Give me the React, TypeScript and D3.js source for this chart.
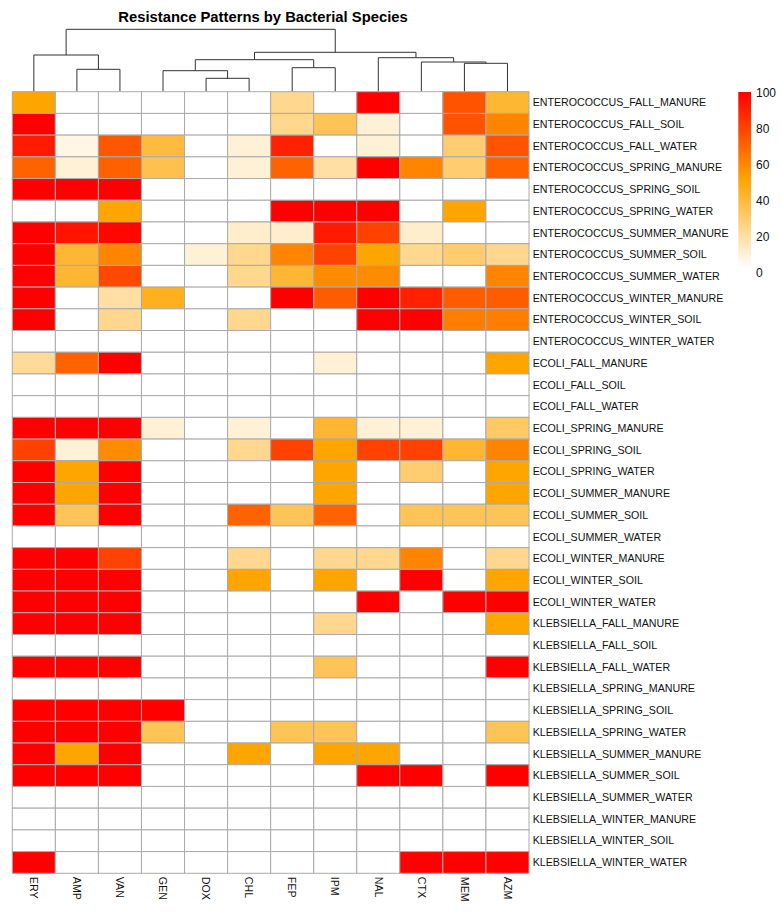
import React, { useEffect, useRef } from 'react';
import * as d3 from 'd3';

const antibiotics = ['ERY', 'AMP', 'VAN', 'GEN', 'DOX', 'CHL', 'FEP', 'IPM', 'NAL', 'CTX', 'MEM', 'AZM'];

const samples = [
  'ENTEROCOCCUS_FALL_MANURE', 'ENTEROCOCCUS_FALL_SOIL', 'ENTEROCOCCUS_FALL_WATER',
  'ENTEROCOCCUS_SPRING_MANURE', 'ENTEROCOCCUS_SPRING_SOIL', 'ENTEROCOCCUS_SPRING_WATER',
  'ENTEROCOCCUS_SUMMER_MANURE', 'ENTEROCOCCUS_SUMMER_SOIL', 'ENTEROCOCCUS_SUMMER_WATER',
  'ENTEROCOCCUS_WINTER_MANURE', 'ENTEROCOCCUS_WINTER_SOIL', 'ENTEROCOCCUS_WINTER_WATER',
  'ECOLI_FALL_MANURE', 'ECOLI_FALL_SOIL', 'ECOLI_FALL_WATER',
  'ECOLI_SPRING_MANURE', 'ECOLI_SPRING_SOIL', 'ECOLI_SPRING_WATER',
  'ECOLI_SUMMER_MANURE', 'ECOLI_SUMMER_SOIL', 'ECOLI_SUMMER_WATER',
  'ECOLI_WINTER_MANURE', 'ECOLI_WINTER_SOIL', 'ECOLI_WINTER_WATER',
  'KLEBSIELLA_FALL_MANURE', 'KLEBSIELLA_FALL_SOIL', 'KLEBSIELLA_FALL_WATER',
  'KLEBSIELLA_SPRING_MANURE', 'KLEBSIELLA_SPRING_SOIL', 'KLEBSIELLA_SPRING_WATER',
  'KLEBSIELLA_SUMMER_MANURE', 'KLEBSIELLA_SUMMER_SOIL', 'KLEBSIELLA_SUMMER_WATER',
  'KLEBSIELLA_WINTER_MANURE', 'KLEBSIELLA_WINTER_SOIL', 'KLEBSIELLA_WINTER_WATER',
];

// % resistant, one row per sample, columns in antibiotics order
const resistance = [
  [50, 0, 0, 0, 0, 0, 22, 0, 100, 0, 75, 40],
  [100, 0, 0, 0, 0, 0, 22, 33, 8, 0, 75, 60],
  [92, 5, 74, 38, 0, 8, 90, 0, 8, 0, 28, 75],
  [70, 8, 71, 35, 0, 8, 70, 18, 100, 60, 28, 70],
  [100, 100, 100, 0, 0, 0, 0, 0, 0, 0, 0, 0],
  [0, 0, 50, 0, 0, 0, 100, 100, 100, 0, 50, 0],
  [100, 94, 98, 0, 0, 10, 10, 92, 80, 10, 0, 0],
  [100, 40, 60, 0, 8, 22, 60, 80, 50, 22, 28, 22],
  [100, 40, 78, 0, 0, 22, 40, 58, 58, 0, 0, 60],
  [100, 0, 18, 44, 0, 0, 100, 72, 100, 90, 72, 72],
  [100, 0, 22, 0, 0, 22, 0, 0, 100, 100, 62, 62],
  [0, 0, 0, 0, 0, 0, 0, 0, 0, 0, 0, 0],
  [20, 70, 100, 0, 0, 0, 0, 8, 0, 0, 0, 50],
  [0, 0, 0, 0, 0, 0, 0, 0, 0, 0, 0, 0],
  [0, 0, 0, 0, 0, 0, 0, 0, 0, 0, 0, 0],
  [100, 100, 100, 8, 0, 8, 0, 40, 8, 8, 0, 30],
  [80, 8, 58, 0, 0, 22, 80, 50, 80, 80, 40, 60],
  [100, 50, 100, 0, 0, 0, 0, 50, 0, 28, 0, 50],
  [100, 50, 100, 0, 0, 0, 0, 50, 0, 0, 0, 50],
  [100, 33, 100, 0, 0, 70, 33, 70, 0, 33, 33, 33],
  [0, 0, 0, 0, 0, 0, 0, 0, 0, 0, 0, 0],
  [100, 100, 80, 0, 0, 22, 0, 22, 22, 60, 0, 22],
  [100, 100, 100, 0, 0, 50, 0, 50, 0, 100, 0, 50],
  [100, 100, 100, 0, 0, 0, 0, 0, 100, 0, 100, 100],
  [100, 100, 100, 0, 0, 0, 0, 22, 0, 0, 0, 50],
  [0, 0, 0, 0, 0, 0, 0, 0, 0, 0, 0, 0],
  [100, 100, 100, 0, 0, 0, 0, 33, 0, 0, 0, 100],
  [0, 0, 0, 0, 0, 0, 0, 0, 0, 0, 0, 0],
  [100, 100, 100, 100, 0, 0, 0, 0, 0, 0, 0, 0],
  [100, 100, 100, 33, 0, 0, 33, 33, 0, 0, 0, 33],
  [100, 50, 100, 0, 0, 50, 0, 50, 50, 0, 0, 0],
  [100, 100, 100, 0, 0, 0, 0, 0, 100, 100, 0, 100],
  [0, 0, 0, 0, 0, 0, 0, 0, 0, 0, 0, 0],
  [0, 0, 0, 0, 0, 0, 0, 0, 0, 0, 0, 0],
  [0, 0, 0, 0, 0, 0, 0, 0, 0, 0, 0, 0],
  [100, 0, 0, 0, 0, 0, 0, 0, 0, 100, 100, 100],
];

// column clustering: [left, right, height]; strings are leaves, numbers point to earlier merges
const colMerges: [string | number, string | number, number][] = [
  ['AMP', 'VAN', 22.4],
  ['ERY', 0, 36.7],
  ['DOX', 'CHL', 13.4],
  ['GEN', 2, 21.0],
  ['FEP', 'IPM', 24.0],
  [3, 4, 32.0],
  ['MEM', 'AZM', 28.4],
  ['CTX', 6, 29.7],
  ['NAL', 7, 34.0],
  [5, 8, 39.4],
  [1, 9, 62.4],
];

const legendTicks = [0, 20, 40, 60, 80, 100];

const font = 'Liberation Sans, Arial, Helvetica, sans-serif';

const App = () => {
  const svgRef = useRef(null);

  useEffect(() => {
    const svg = d3.select(svgRef.current);
    svg.selectAll('*').remove();

    const left = 12.3;
    const right = 529;
    const top = 91.7;
    const bottom = 873.3;

    const x = d3.scaleBand().domain(antibiotics).range([left, right]).padding(0);
    const y = d3.scaleBand().domain(samples).range([top, bottom]).padding(0);
    const color = d3.scaleLinear<string>().domain([0, 50, 100]).range(['#ffffff', '#ffa500', '#ff0000']);

    // title
    svg
      .append('text')
      .attr('x', 263)
      .attr('y', 22)
      .attr('text-anchor', 'middle')
      .attr('font-family', font)
      .attr('font-weight', 'bold')
      .attr('font-size', 14.8)
      .text('Resistance Patterns by Bacterial Species');

    // dendrogram
    const hScale = d3.scaleLinear().domain([0, d3.max(colMerges, (m) => m[2])]).range([top, 29.3]);
    const nodes = [];
    const pos = (ref) =>
      typeof ref === 'string'
        ? { x: x(ref) + x.bandwidth() / 2, y: top }
        : nodes[ref];
    const dendro = svg.append('g').attr('fill', 'none').attr('stroke', '#333').attr('stroke-width', 1);
    colMerges.forEach(([a, b, h]) => {
      const pa = pos(a);
      const pb = pos(b);
      const yy = hScale(h);
      dendro
        .append('path')
        .attr('d', `M${pa.x},${pa.y}V${yy}H${pb.x}V${pb.y}`);
      nodes.push({ x: (pa.x + pb.x) / 2, y: yy });
    });

    // cells
    const cells = [];
    resistance.forEach((row, i) => {
      row.forEach((v, j) => cells.push({ sample: samples[i], drug: antibiotics[j], value: v }));
    });
    svg
      .append('g')
      .selectAll('rect')
      .data(cells)
      .enter()
      .append('rect')
      .attr('x', (d) => x(d.drug))
      .attr('y', (d) => y(d.sample))
      .attr('width', x.bandwidth())
      .attr('height', y.bandwidth())
      .attr('fill', (d) => color(d.value))
      .attr('stroke', '#aaaaaa')
      .attr('stroke-width', 1);

    // row labels
    svg
      .append('g')
      .selectAll('text')
      .data(samples)
      .enter()
      .append('text')
      .attr('x', right + 3.7)
      .attr('y', (d) => y(d) + y.bandwidth() / 2)
      .attr('dy', '0.35em')
      .attr('font-family', font)
      .attr('font-size', 10.67)
      .attr('fill', '#111')
      .text((d) => d);

    // column labels
    svg
      .append('g')
      .selectAll('text')
      .data(antibiotics)
      .enter()
      .append('text')
      .attr('transform', (d) => `translate(${x(d) + x.bandwidth() / 2},${bottom + 3.5}) rotate(90)`)
      .attr('dy', '0.35em')
      .attr('font-family', font)
      .attr('font-size', 10.67)
      .attr('fill', '#111')
      .text((d) => d);

    // legend
    const defs = svg.append('defs');
    const grad = defs
      .append('linearGradient')
      .attr('id', 'legendGrad')
      .attr('x1', 0)
      .attr('x2', 0)
      .attr('y1', 1)
      .attr('y2', 0);
    [0, 50, 100].forEach((v) => {
      grad.append('stop').attr('offset', `${v}%`).attr('stop-color', color(v));
    });
    const ly = d3.scaleLinear().domain([0, 100]).range([268, 92]);
    svg
      .append('rect')
      .attr('x', 738.3)
      .attr('y', ly(100))
      .attr('width', 12.7)
      .attr('height', ly(0) - ly(100))
      .attr('fill', 'url(#legendGrad)');
    svg
      .append('g')
      .selectAll('text')
      .data(legendTicks)
      .enter()
      .append('text')
      .attr('x', 756)
      .attr('y', (d) => ly(d) + 1 + (4 - d / 25))
      .attr('dy', '0.35em')
      .attr('font-family', font)
      .attr('font-size', 12)
      .attr('fill', '#111')
      .text((d) => d);
  }, []);

  return (
    <svg
      ref={svgRef}
      width={782}
      height={912}
      style={{ position: 'absolute', left: 0, top: 0, background: '#fff' }}
    />
  );
};

export default App;
